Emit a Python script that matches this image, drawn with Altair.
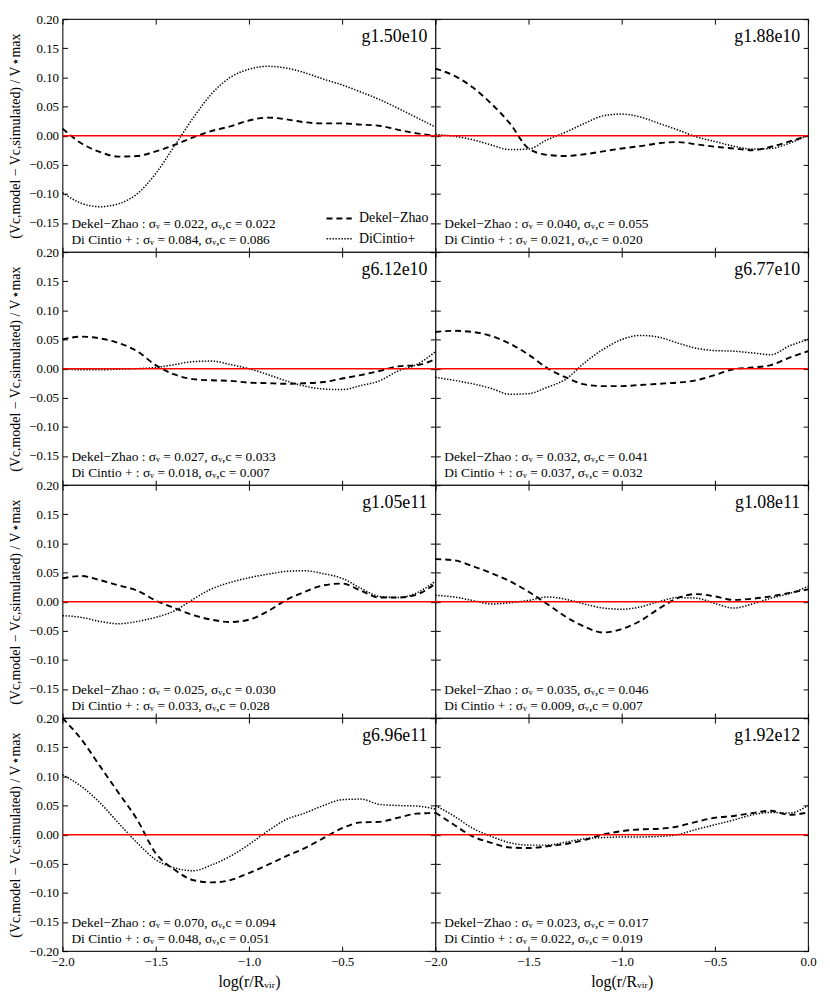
import altair as alt
import pandas as pd

# ---------------- data ----------------
X = [-2.0, -1.9, -1.8, -1.7, -1.6, -1.5, -1.4, -1.3, -1.2, -1.1, -1.0,
     -0.9, -0.8, -0.7, -0.6, -0.5, -0.4, -0.3, -0.2, -0.1, 0.0]

names = ["g1.50e10", "g1.88e10", "g6.12e10", "g6.77e10",
         "g1.05e11", "g1.08e11", "g6.96e11", "g1.92e12"]

dz_1 = [0.012, -0.013, -0.028, -0.036, -0.035, -0.027, -0.016, -0.003, 0.008, 0.016, 0.026,
        0.031, 0.028, 0.023, 0.021, 0.021, 0.019, 0.017, 0.010, 0.004, 0.000]
dc_1 = [-0.098, -0.116, -0.122, -0.117, -0.100, -0.065, -0.018, 0.030, 0.072, 0.100, 0.114,
        0.119, 0.116, 0.108, 0.097, 0.087, 0.075, 0.062, 0.047, 0.031, 0.015]

dz_2 = [0.115, 0.103, 0.083, 0.055, 0.021, -0.022, -0.033, -0.035, -0.032, -0.027, -0.022,
        -0.018, -0.013, -0.011, -0.015, -0.019, -0.022, -0.025, -0.019, -0.010, 0.000]
dc_2 = [0.002, -0.001, -0.007, -0.016, -0.024, -0.023, -0.007, 0.006, 0.021, 0.034, 0.037,
        0.032, 0.021, 0.010, -0.002, -0.010, -0.018, -0.023, -0.022, -0.013, 0.001]

dz_3 = [0.050, 0.055, 0.052, 0.044, 0.030, 0.006, -0.010, -0.018, -0.020, -0.021, -0.024,
        -0.025, -0.026, -0.025, -0.023, -0.017, -0.011, -0.004, 0.004, 0.006, 0.016]
dc_3 = [0.000, -0.002, -0.002, -0.001, 0.000, 0.002, 0.007, 0.012, 0.013, 0.007, 0.000,
        -0.010, -0.021, -0.030, -0.035, -0.036, -0.029, -0.021, -0.004, 0.007, 0.029]

dz_4 = [0.063, 0.065, 0.063, 0.056, 0.043, 0.024, 0.001, -0.015, -0.027, -0.030, -0.030,
        -0.028, -0.026, -0.024, -0.020, -0.011, -0.001, 0.002, 0.006, 0.019, 0.030]
dc_4 = [-0.015, -0.020, -0.026, -0.034, -0.044, -0.043, -0.032, -0.018, 0.010, 0.033, 0.050,
        0.057, 0.054, 0.044, 0.035, 0.031, 0.030, 0.027, 0.024, 0.039, 0.050]

dz_5 = [0.040, 0.044, 0.037, 0.028, 0.019, 0.002, -0.011, -0.023, -0.031, -0.035, -0.031,
        -0.017, 0.003, 0.017, 0.028, 0.031, 0.019, 0.007, 0.007, 0.012, 0.031]
dc_5 = [-0.024, -0.027, -0.034, -0.038, -0.034, -0.027, -0.016, 0.004, 0.022, 0.033, 0.041,
        0.047, 0.052, 0.053, 0.048, 0.040, 0.023, 0.009, 0.007, 0.015, 0.035]

dz_6 = [0.073, 0.071, 0.061, 0.049, 0.035, 0.017, -0.004, -0.026, -0.043, -0.053, -0.047,
        -0.033, -0.012, 0.006, 0.013, 0.009, 0.003, 0.005, 0.009, 0.015, 0.021]
dc_6 = [0.011, 0.008, 0.002, -0.004, -0.002, 0.002, 0.008, 0.004, -0.004, -0.011, -0.013,
        -0.009, 0.000, 0.007, 0.006, -0.003, -0.011, -0.004, 0.006, 0.014, 0.026]

dz_7 = [0.200, 0.164, 0.118, 0.072, 0.026, -0.032, -0.060, -0.078, -0.082, -0.078, -0.066,
        -0.052, -0.037, -0.023, -0.006, 0.011, 0.021, 0.022, 0.029, 0.036, 0.037]
dc_7 = [0.103, 0.083, 0.055, 0.020, -0.014, -0.043, -0.057, -0.062, -0.052, -0.037, -0.017,
        0.006, 0.026, 0.037, 0.050, 0.060, 0.061, 0.052, 0.050, 0.049, 0.044]

dz_8 = [0.038, 0.017, -0.003, -0.014, -0.022, -0.023, -0.020, -0.016, -0.009, 0.000, 0.006,
        0.009, 0.010, 0.014, 0.022, 0.029, 0.032, 0.037, 0.041, 0.034, 0.038]
dc_8 = [0.050, 0.032, 0.011, -0.003, -0.014, -0.018, -0.018, -0.013, -0.007, -0.005, -0.004,
        -0.004, -0.003, 0.000, 0.009, 0.017, 0.025, 0.034, 0.038, 0.037, 0.050]

dz_all = [dz_1, dz_2, dz_3, dz_4, dz_5, dz_6, dz_7, dz_8]
dc_all = [dc_1, dc_2, dc_3, dc_4, dc_5, dc_6, dc_7, dc_8]

sig_dz = [("0.022", "0.022"), ("0.040", "0.055"), ("0.027", "0.033"), ("0.032", "0.041"),
          ("0.025", "0.030"), ("0.035", "0.046"), ("0.070", "0.094"), ("0.023", "0.017")]
sig_dc = [("0.084", "0.086"), ("0.021", "0.020"), ("0.018", "0.007"), ("0.037", "0.032"),
          ("0.033", "0.028"), ("0.009", "0.007"), ("0.048", "0.051"), ("0.022", "0.019")]

models = ["Dekel\u2212Zhao", "DiCintio+"]
y_ticks_full = [-0.20, -0.15, -0.10, -0.05, 0.0, 0.05, 0.10, 0.15, 0.20]
y_ticks_top = [-0.15, -0.10, -0.05, 0.0, 0.05, 0.10, 0.15, 0.20]
x_ticks_full = [-2.0, -1.5, -1.0, -0.5, 0.0]
x_ticks_left = [-2.0, -1.5, -1.0, -0.5]

Y_TITLE = "(Vc,model \u2212 Vc,simulated) / V\u22C6max"
X_TITLE = "log(r/R\u1D65\u1D62\u1D63)"

# ---------------- styling ----------------
FONT = "Liberation Serif"
W, H = 376, 235
TICK = 5


def make_axis(orient, show_labels, values, fmt, title=None, title_size=16):
    kw = dict(orient=orient, values=values, format=fmt, labels=show_labels,
              domain=False, grid=False, ticks=True, tickSize=TICK, offset=-TICK,
              tickColor="black", tickWidth=1, labelPadding=4, labelFont=FONT,
              labelFontSize=13, labelColor="black", labelFlush=False, title=title)
    if title is not None:
        kw.update(titleFont=FONT, titleFontSize=title_size, titleFontWeight="normal",
                  titleColor="black", titlePadding=6)
    return alt.Axis(**kw)


xs = alt.Scale(domain=[-2.0, 0.0], nice=False, zero=False)
ys = alt.Scale(domain=[-0.2, 0.2], nice=False, zero=False)
dash_scale = alt.Scale(domain=models, range=[[6, 4], [1.4, 1.6]])
width_scale = alt.Scale(domain=models, range=[1.9, 1.5])


def panel(i):
    col = i % 2
    row = i // 2
    left = col == 0
    bottom = row == 3
    df = pd.DataFrame({
        "x": X + X,
        "y": dz_all[i] + dc_all[i],
        "model": [models[0]] * len(X) + [models[1]] * len(X),
    })
    yvals = y_ticks_full if bottom else y_ticks_top
    xvals = x_ticks_full if col == 1 else x_ticks_left

    if i == 0:
        legend = alt.Legend(orient="bottom-right", title=None, labelFont=FONT,
                            labelFontSize=14, labelColor="black", symbolType="stroke",
                            symbolStrokeColor="black", symbolStrokeWidth=1.9,
                            symbolSize=650, offset=6, rowPadding=0, labelOffset=6)
    else:
        legend = None

    lines = alt.Chart(df).mark_line(color="black", interpolate="monotone").encode(
        x=alt.X("x:Q", scale=xs,
                axis=make_axis("bottom", bottom, xvals, ".1f", X_TITLE if bottom else None)),
        y=alt.Y("y:Q", scale=ys,
                axis=make_axis("left", left, yvals, ".2f", Y_TITLE if left else None, 14)),
        strokeDash=alt.StrokeDash("model:N", scale=dash_scale, legend=legend),
        strokeWidth=alt.StrokeWidth("model:N", scale=width_scale, legend=None),
    )

    other_axes = alt.Chart(df).mark_point(opacity=0).encode(
        x=alt.X("x:Q", scale=xs, axis=make_axis("top", False, x_ticks_full, ".1f")),
        y=alt.Y("y:Q", scale=ys, axis=make_axis("right", False, y_ticks_full, ".2f")),
    )

    zero = alt.Chart(pd.DataFrame({"y0": [0.0]})).mark_rule(
        color="red", strokeWidth=1.5).encode(y=alt.Y("y0:Q", scale=ys, axis=None))

    name_txt = alt.Chart(pd.DataFrame({"t": [names[i]]})).mark_text(
        font=FONT, fontSize=18, align="right", baseline="middle", color="black"
    ).encode(x=alt.value(W - 8), y=alt.value(18), text="t:N")

    l1 = "Dekel\u2212Zhao : \u03c3\u1D65 = %s, \u03c3\u1D65,c = %s" % sig_dz[i]
    l2 = "Di Cintio + :  \u03c3\u1D65 = %s, \u03c3\u1D65,c = %s" % sig_dc[i]
    st1 = alt.Chart(pd.DataFrame({"t": [l1]})).mark_text(
        font=FONT, fontSize=13.5, align="left", baseline="middle", color="black"
    ).encode(x=alt.value(9), y=alt.value(H - 28), text="t:N")
    st2 = alt.Chart(pd.DataFrame({"t": [l2]})).mark_text(
        font=FONT, fontSize=13.5, align="left", baseline="middle", color="black"
    ).encode(x=alt.value(9), y=alt.value(H - 12), text="t:N")

    return alt.layer(lines, other_axes, zero, name_txt, st1, st2).resolve_axis(
        x="independent", y="independent").properties(width=W, height=H)


chart = alt.concat(*[panel(i) for i in range(8)], columns=2, spacing=0, bounds="flush") \
    .resolve_scale(x="independent", y="independent") \
    .resolve_axis(x="independent", y="independent") \
    .resolve_legend(strokeDash="independent", strokeWidth="independent") \
    .configure_view(stroke="#222222", strokeWidth=1.2) \
    .properties(background="white", padding={"left": 0, "top": 0, "right": 5, "bottom": 0})

chart.save("out.html", embed_options={"renderer": "svg", "actions": False})
